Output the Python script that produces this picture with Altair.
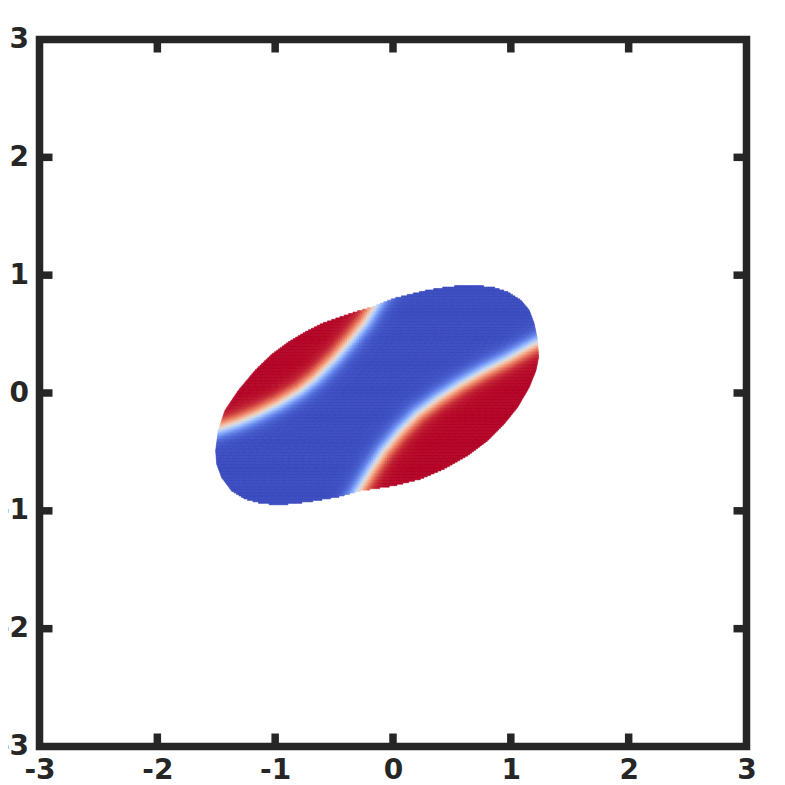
import numpy as np
import pandas as pd
import altair as alt

# Outline of the elliptical domain (data units), clockwise
boundary_x = [-1.505, -1.483, -1.426, -1.312, -1.170, -1.028, -0.887, -0.745, -0.603, -0.461,
              -0.319, -0.177, 0.007, 0.149, 0.291, 0.432, 0.574, 0.717, 0.858, 0.972,
              1.085, 1.156, 1.198, 1.227, 1.236, 1.213, 1.156, 1.057, 0.943, 0.802,
              0.631, 0.432, 0.234, 0.007, -0.277, -0.461, -0.660, -0.830, -0.972, -1.113,
              -1.255, -1.369, -1.454, -1.496]
boundary_y = [-0.489, -0.319, -0.149, 0.021, 0.191, 0.328, 0.432, 0.517, 0.589, 0.640,
              0.688, 0.730, 0.802, 0.838, 0.872, 0.895, 0.912, 0.912, 0.895, 0.858,
              0.787, 0.702, 0.589, 0.447, 0.305, 0.191, 0.049, -0.121, -0.262, -0.404,
              -0.532, -0.645, -0.730, -0.787, -0.830, -0.881, -0.915, -0.938, -0.949, -0.938,
              -0.900, -0.830, -0.717, -0.603]

# Interface (value 0) curves
iface_a_x = [-1.70, -1.483, -1.312, -1.142, -0.972, -0.787, -0.660, -0.489, -0.347, -0.234, -0.134, -0.06]
iface_a_y = [-0.38, -0.305, -0.249, -0.177, -0.092, 0.021, 0.123, 0.294, 0.461, 0.603, 0.762, 0.88]
iface_b_x = [-0.35, -0.277, -0.191, -0.078, 0.064, 0.206, 0.376, 0.574, 0.773, 0.972, 1.198, 1.40]
iface_b_y = [-0.92, -0.802, -0.660, -0.489, -0.319, -0.177, -0.049, 0.078, 0.191, 0.291, 0.419, 0.52]

interface_width = 0.07

tick_values = [-3, -2, -1, 0, 1, 2, 3]
inner_ticks = [-2, -1, 0, 1, 2]

# coolwarm colour stops
cw_domain = [-1, -0.75, -0.5, -0.25, 0, 0.25, 0.5, 0.75, 1]
cw_range = ["#3b4cc0", "#6282ea", "#8db0fe", "#b8d0f9", "#dddcdc",
            "#f5c4ac", "#f49a7b", "#de604d", "#b40426"]

# ---- build the cells of the field inside the outline ----
bxa = np.array(boundary_x)
bya = np.array(boundary_y)
n = len(bxa)
dy = 0.0125
dx = 0.02
nrows = int(np.ceil((bya.max() - bya.min()) / dy))
yedges = np.linspace(bya.min(), bya.max(), nrows + 1)
cells = []
for i in range(nrows):
    y0, y1 = yedges[i], yedges[i + 1]
    yc = 0.5 * (y0 + y1)
    xs = []
    for k in range(n):
        xa, ya = bxa[k], bya[k]
        xb, yb = bxa[(k + 1) % n], bya[(k + 1) % n]
        if (ya <= yc < yb) or (yb <= yc < ya):
            xs.append(xa + (yc - ya) * (xb - xa) / (yb - ya))
    if len(xs) < 2:
        continue
    xl, xr = min(xs), max(xs)
    m = max(1, int(np.ceil((xr - xl) / dx)))
    xe = np.linspace(xl, xr, m + 1)
    for j in range(m):
        cells.append((xe[j], xe[j + 1], y0, y1))
cells = np.array(cells)
px = 0.5 * (cells[:, 0] + cells[:, 1])
py = 0.5 * (cells[:, 2] + cells[:, 3])


def signed_dist(px, py, cx, cy):
    best = np.full(px.shape, np.inf)
    sign = np.ones(px.shape)
    for k in range(len(cx) - 1):
        ax_, ay_ = cx[k], cy[k]
        ddx, ddy = cx[k + 1] - ax_, cy[k + 1] - ay_
        L2 = ddx * ddx + ddy * ddy
        t = np.clip(((px - ax_) * ddx + (py - ay_) * ddy) / L2, 0, 1)
        qx = ax_ + t * ddx
        qy = ay_ + t * ddy
        d = np.hypot(px - qx, py - qy)
        cr = ddx * (py - ay_) - ddy * (px - ax_)
        upd = d < best
        best = np.where(upd, d, best)
        sign = np.where(upd, np.sign(cr), sign)
    return best * sign


sa = signed_dist(px, py, np.array(iface_a_x), np.array(iface_a_y))
sb = signed_dist(px, py, np.array(iface_b_x), np.array(iface_b_y))
val = np.tanh(np.maximum(sa, -sb) / interface_width)

df = pd.DataFrame({
    "x0": np.round(cells[:, 0], 4), "x1": np.round(cells[:, 1], 4),
    "y0": np.round(cells[:, 2], 4), "y1": np.round(cells[:, 3], 4),
    "v": np.round(val, 3),
})
ticks_df = pd.DataFrame({"t": inner_ticks})

W = 707
H = 707
FRAME = "#262626"
LW = 7.5
TICKLEN = 13

xscale = alt.Scale(domain=[-3, 3], nice=False, zero=False)
yscale = alt.Scale(domain=[-3, 3], nice=False, zero=False)
cscale = alt.Scale(domain=cw_domain, range=cw_range, interpolate="rgb")

common_axis = dict(values=tick_values, title=None, ticks=False, domain=False, grid=False,
                   labelFont="DejaVu Sans", labelFontWeight="bold", labelFontSize=28,
                   labelColor=FRAME, labelFlush=False, labelOverlap=False, labelBound=False,
                   labelExpr="'' + datum.value")
axis_x = alt.Axis(labelPadding=10, **common_axis)
axis_y = alt.Axis(labelPadding=11, **common_axis)

heat = alt.Chart(df).mark_rect(strokeWidth=0.6).encode(
    x=alt.X("x0:Q", scale=xscale, axis=axis_x),
    x2="x1:Q",
    y=alt.Y("y0:Q", scale=yscale, axis=axis_y),
    y2="y1:Q",
    fill=alt.Fill("v:Q", scale=cscale, legend=None),
    stroke=alt.Stroke("v:Q", scale=cscale, legend=None),
)

rule = alt.Chart(ticks_df).mark_rule(color=FRAME, strokeWidth=LW)
bottom = rule.encode(x=alt.X("t:Q", scale=xscale, axis=axis_x), y=alt.value(H), y2=alt.value(H - TICKLEN))
top = rule.encode(x=alt.X("t:Q", scale=xscale, axis=axis_x), y=alt.value(0), y2=alt.value(TICKLEN))
left = rule.encode(y=alt.Y("t:Q", scale=yscale, axis=axis_y), x=alt.value(0), x2=alt.value(TICKLEN))
right = rule.encode(y=alt.Y("t:Q", scale=yscale, axis=axis_y), x=alt.value(W), x2=alt.value(W - TICKLEN))

chart = alt.layer(heat, bottom, top, left, right).properties(
    width=W, height=H,
    padding={"left": 31.5, "top": 31.5, "right": 30, "bottom": 38},
    autosize=alt.AutoSizeParams(type="none"),
    background="white",
).configure_view(stroke=FRAME, strokeWidth=LW)

chart.save("out.html", embed_options={"renderer": "svg", "actions": False})
